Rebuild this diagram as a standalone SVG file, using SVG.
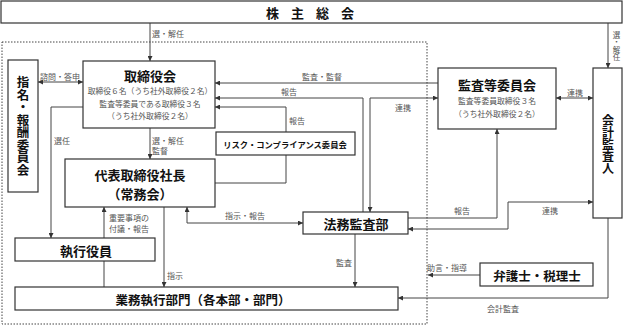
<svg xmlns="http://www.w3.org/2000/svg" width="624" height="326" viewBox="0 0 624 326">
<defs>
<marker id="ah" viewBox="0 0 6 6" refX="6" refY="3" markerWidth="5" markerHeight="5" markerUnits="userSpaceOnUse" orient="auto-start-reverse">
<path d="M0,0 L6,3 L0,6 Z" fill="#333"/>
</marker>
<style>
.box{fill:#fff;stroke:#333;stroke-width:1.2}
.t{font-family:"Noto Sans CJK JP","Noto Sans",sans-serif;font-weight:bold;fill:#111;text-anchor:middle;dominant-baseline:central}
.s{font-family:"Noto Sans CJK JP","Noto Sans",sans-serif;font-size:8px;fill:#555;text-anchor:middle;dominant-baseline:central}
.c{fill:none;stroke:#444;stroke-width:1}
.a{marker-end:url(#ah)}
.b{marker-start:url(#ah);marker-end:url(#ah)}
.v{writing-mode:vertical-rl;text-orientation:upright}
</style>
</defs>
<rect x="2" y="42" width="425" height="282" fill="none" stroke="#444" stroke-width="1" stroke-dasharray="1.5,1.5"/>
<g id="connectors">
<path class="c a" d="M150,23 V61"/>
<path class="c a" d="M608,23 V68"/>
<path class="c b" d="M38,82 H83"/>
<path class="c a" d="M83,107 H51 V238"/>
<path class="c a" d="M150,128 V159"/>
<path class="c a" d="M438,83 H215"/>
<path class="c a" d="M363,212 V98 H215"/>
<path class="c b" d="M438,98 H370 V212"/>
<path class="c" d="M215,183 H286 V155"/>
<path class="c a" d="M286,132 V107 H215"/>
<path class="c b" d="M556,98 H593"/>
<path class="c a" d="M408,218 H497 V129"/>
<path class="c b" d="M408,229 H508 V202 H593"/>
<path class="c b" d="M187,207 V223 H303"/>
<path class="c a" d="M104,238 V207"/>
<path class="c" d="M104,261 V287"/>
<path class="c a" d="M164,207 V287"/>
<path class="c a" d="M355,234 V287"/>
<path class="c a" d="M480,275 H428"/>
<path class="c a" d="M608,218 V298 H398"/>
<text class="s" x="168" y="33">選・解任</text>
<text class="s v" x="616.5" y="46" style="font-size:7.5px">選・解任</text>
<text class="s" x="60" y="76">諮問・答申</text>
<text class="s" x="322" y="76">監査・監督</text>
<text class="s" x="289" y="91">報告</text>
<text class="s" x="297" y="120">報告</text>
<text class="s" x="403" y="107">連携</text>
<text class="s" x="575" y="92">連携</text>
<text class="s" x="62" y="140">選任</text>
<text class="s" x="152" y="140" style="text-anchor:start">選・解任</text>
<text class="s" x="152" y="150" style="text-anchor:start">監督</text>
<text class="s" x="245" y="215">指示・報告</text>
<text class="s" x="109" y="217" style="text-anchor:start">重要事項の</text>
<text class="s" x="109" y="228" style="text-anchor:start">付議・報告</text>
<text class="s" x="175" y="275">指示</text>
<text class="s" x="344" y="262">監査</text>
<text class="s" x="462" y="210">報告</text>
<text class="s" x="550" y="210">連携</text>
<text class="s" x="447" y="267">助言・指導</text>
<text class="s" x="503" y="308">会計監査</text>
</g>
<g id="shareholders">
<rect class="box" x="1" y="1" width="621" height="22"/>
<text class="t" x="316" y="12" font-size="13" letter-spacing="12">株主総会</text>
</g>
<g id="nomination">
<rect class="box" x="8" y="60" width="30" height="132"/>
<text class="t v" x="23" y="126" font-size="12.5">指名・報酬委員会</text>
</g>
<g id="board">
<rect class="box" x="83" y="61" width="132" height="67"/>
<text class="t" x="150" y="75" font-size="13">取締役会</text>
<text class="s" x="150" y="90" style="font-size:7.8px">取締役６名（うち社外取締役２名）</text>
<text class="s" x="150" y="103" style="font-size:7.8px">監査等委員である取締役３名</text>
<text class="s" x="150" y="115" style="font-size:7.8px">（うち社外取締役２名）</text>
</g>
<g id="president">
<rect class="box" x="65" y="159" width="150" height="48"/>
<text class="t" x="140" y="174" font-size="13">代表取締役社長</text>
<text class="t" x="140" y="193" font-size="13">（常務会）</text>
</g>
<g id="risk">
<rect class="box" x="216" y="132" width="139" height="23"/>
<text class="t" x="285" y="144" font-size="8.3">リスク・コンプライアンス委員会</text>
</g>
<g id="audit-committee">
<rect class="box" x="438" y="68" width="118" height="61"/>
<text class="t" x="497" y="84" font-size="13">監査等委員会</text>
<text class="s" x="497" y="100" style="font-size:7.8px">監査等委員取締役３名</text>
<text class="s" x="497" y="113" style="font-size:7.8px">（うち社外取締役２名）</text>
</g>
<g id="accounting-auditor">
<rect class="box" x="593" y="68" width="29" height="150"/>
<text class="t v" x="608" y="144" font-size="12">会計監査人</text>
</g>
<g id="legal-audit">
<rect class="box" x="303" y="212" width="105" height="22"/>
<text class="t" x="356" y="223" font-size="13">法務監査部</text>
</g>
<g id="officers">
<rect class="box" x="15" y="238" width="140" height="23"/>
<text class="t" x="86" y="250" font-size="13">執行役員</text>
</g>
<g id="business">
<rect class="box" x="15" y="287" width="383" height="23"/>
<text class="t" x="203" y="299" font-size="12.5">業務執行部門（各本部・部門）</text>
</g>
<g id="lawyers">
<rect class="box" x="480" y="263" width="113" height="23"/>
<text class="t" x="537" y="275" font-size="12.5">弁護士・税理士</text>
</g>
</svg>
